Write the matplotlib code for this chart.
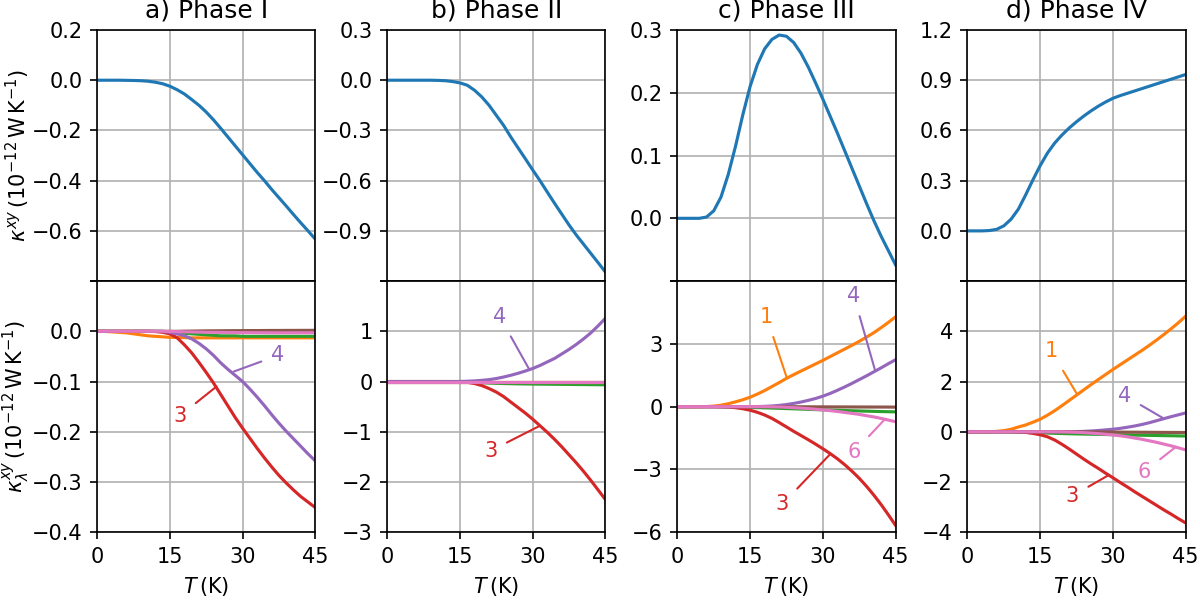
import matplotlib
matplotlib.use("Agg")
import matplotlib.pyplot as plt
from matplotlib.ticker import FuncFormatter
import numpy as np

# temperature grid (K)
T = [0, 1.5, 3, 4.5, 6, 7.5, 9, 10.5, 12, 13.5,
     15, 16.5, 18, 19.5, 21, 22.5, 24, 25.5, 27, 28.5,
     30, 31.5, 33, 34.5, 36, 37.5, 39, 40.5, 42, 43.5, 45]

phase_titles = ["a) Phase I", "b) Phase II", "c) Phase III", "d) Phase IV"]

Z10 = [0] * 10

# total thermal Hall conductivity, 1e-12 W/K
kxy_I = ([0, 0, 0, 0, -0.0005, -0.001, -0.002, -0.004, -0.008, -0.014]
         + [-0.024, -0.038, -0.055, -0.077, -0.1, -0.127, -0.158, -0.192, -0.227, -0.262]
         + [-0.297, -0.332, -0.367, -0.4, -0.435, -0.468, -0.501, -0.535, -0.568, -0.6, -0.633])
kxy_II = ([0, 0, 0, 0, 0, 0, 0, -0.001, -0.003, -0.008]
          + [-0.016, -0.03, -0.06, -0.1, -0.15, -0.21, -0.27, -0.34, -0.405, -0.47]
          + [-0.536, -0.6, -0.668, -0.735, -0.8, -0.865, -0.925, -0.98, -1.035, -1.09, -1.146])
kxy_III = ([0, 0, 0, 0, 0.002, 0.012, 0.034, 0.07, 0.115, 0.165]
           + [0.21, 0.245, 0.27, 0.285, 0.292, 0.29, 0.28, 0.263, 0.241, 0.216]
           + [0.19, 0.163, 0.136, 0.108, 0.08, 0.052, 0.024, -0.003, -0.028, -0.051, -0.074])
kxy_IV = ([0, 0, 0, 0.002, 0.009, 0.03, 0.07, 0.13, 0.215, 0.305]
          + [0.39, 0.465, 0.525, 0.573, 0.615, 0.652, 0.686, 0.717, 0.745, 0.77]
          + [0.792, 0.808, 0.822, 0.836, 0.85, 0.864, 0.878, 0.892, 0.906, 0.92, 0.934])

# band-resolved contributions (bands 1..6), 1e-12 W/K
bands_I = [
    [0, -0.0003, -0.001, -0.002, -0.003, -0.005, -0.007, -0.009, -0.01, -0.011]
    + [-0.012, -0.012, -0.0125, -0.013, -0.013, -0.013, -0.013, -0.013, -0.013, -0.013]
    + [-0.013] * 11,
    Z10 + [-0.001, -0.002, -0.004, -0.005, -0.006, -0.007, -0.008, -0.009, -0.009, -0.009]
    + [-0.01] * 11,
    [0, 0, 0, 0, 0, 0, 0, 0, -0.0005, -0.002]
    + [-0.005, -0.013, -0.027, -0.043, -0.062, -0.082, -0.103, -0.126, -0.149, -0.172]
    + [-0.193, -0.213, -0.233, -0.252, -0.27, -0.287, -0.302, -0.316, -0.329, -0.34, -0.351],
    [0, 0, 0, 0, 0, 0, 0, 0, 0, -0.0005]
    + [-0.002, -0.005, -0.009, -0.015, -0.024, -0.035, -0.048, -0.063, -0.076, -0.088]
    + [-0.1, -0.115, -0.131, -0.148, -0.166, -0.183, -0.199, -0.214, -0.229, -0.244, -0.258],
    Z10 + [0, 0, 0.0003, 0.0005, 0.0007, 0.0009, 0.001, 0.0011, 0.0012, 0.0013]
    + [0.0014, 0.0015, 0.0015, 0.0016, 0.0017, 0.0017, 0.0018, 0.0018, 0.0019, 0.0019, 0.002],
    Z10 + [-0.0003, -0.0006, -0.001, -0.0013, -0.0016, -0.0019, -0.002, -0.0022, -0.0024, -0.0025]
    + [-0.0026, -0.0027, -0.0028, -0.0029, -0.003, -0.003, -0.003, -0.003, -0.003, -0.003, -0.003],
]
bands_II = [
    [0] * 31,
    Z10 + [-0.003, -0.008, -0.015, -0.023, -0.03, -0.035, -0.04, -0.043, -0.046, -0.048]
    + [-0.05, -0.052, -0.053, -0.055, -0.056, -0.057, -0.059, -0.06, -0.062, -0.063, -0.065],
    Z10 + [-0.003, -0.015, -0.04, -0.08, -0.14, -0.21, -0.3, -0.41, -0.52, -0.63]
    + [-0.75, -0.88, -1.01, -1.15, -1.3, -1.46, -1.62, -1.79, -1.97, -2.16, -2.35],
    Z10 + [0.002, 0.006, 0.013, 0.024, 0.038, 0.06, 0.09, 0.125, 0.165, 0.21]
    + [0.26, 0.32, 0.39, 0.46, 0.55, 0.64, 0.74, 0.85, 0.97, 1.11, 1.26],
    [0] * 31,
    [0] * 31,
]
bands_III = [
    [0, 0, 0, 0, 0.005, 0.025, 0.07, 0.14, 0.23, 0.33]
    + [0.45, 0.6, 0.77, 0.96, 1.15, 1.35, 1.53, 1.7, 1.87, 2.04]
    + [2.21, 2.39, 2.57, 2.75, 2.93, 3.12, 3.32, 3.53, 3.77, 4.02, 4.29],
    [0, 0, 0, 0, 0, -0.003, -0.008, -0.015, -0.022, -0.03]
    + [-0.038, -0.047, -0.057, -0.068, -0.08, -0.092, -0.104, -0.116, -0.128, -0.14]
    + [-0.152, -0.163, -0.174, -0.185, -0.196, -0.206, -0.216, -0.225, -0.234, -0.242, -0.25],
    [0, 0, 0, 0, 0, 0, -0.003, -0.015, -0.05, -0.1]
    + [-0.17, -0.27, -0.4, -0.56, -0.76, -0.97, -1.18, -1.38, -1.58, -1.79]
    + [-2.01, -2.24, -2.49, -2.77, -3.08, -3.42, -3.8, -4.22, -4.67, -5.16, -5.67],
    Z10 + [0, 0.004, 0.014, 0.032, 0.06, 0.1, 0.155, 0.22, 0.3, 0.39]
    + [0.5, 0.63, 0.78, 0.94, 1.11, 1.29, 1.47, 1.66, 1.85, 2.05, 2.24],
    Z10 + [0, 0, 0, 0, 0, 0, -0.003, -0.005, -0.007, -0.009]
    + [-0.01, -0.012, -0.013, -0.014, -0.015, -0.016, -0.017, -0.018, -0.019, -0.02, -0.022],
    Z10 + [0, 0, 0, -0.005, -0.015, -0.03, -0.05, -0.07, -0.095, -0.125]
    + [-0.155, -0.19, -0.23, -0.275, -0.32, -0.37, -0.43, -0.49, -0.56, -0.64, -0.72],
]
bands_IV = [
    [0, 0, 0, 0.003, 0.015, 0.045, 0.1, 0.19, 0.27, 0.38]
    + [0.5, 0.66, 0.84, 1.04, 1.25, 1.46, 1.67, 1.88, 2.08, 2.28]
    + [2.48, 2.67, 2.86, 3.05, 3.24, 3.44, 3.65, 3.87, 4.1, 4.34, 4.6],
    [0, 0, 0, 0, 0, -0.003, -0.008, -0.015, -0.023, -0.032]
    + [-0.042, -0.052, -0.062, -0.071, -0.079, -0.086, -0.092, -0.098, -0.104, -0.11]
    + [-0.116, -0.122, -0.128, -0.134, -0.139, -0.144, -0.149, -0.154, -0.159, -0.164, -0.17],
    [0, 0, 0, 0, 0, 0, 0, -0.005, -0.025, -0.065]
    + [-0.12, -0.2, -0.33, -0.5, -0.69, -0.89, -1.09, -1.28, -1.46, -1.65]
    + [-1.83, -2.02, -2.2, -2.39, -2.57, -2.75, -2.93, -3.11, -3.28, -3.46, -3.63],
    Z10 + [0, 0, 0, 0, 0.002, 0.006, 0.015, 0.03, 0.05, 0.075]
    + [0.1, 0.135, 0.18, 0.23, 0.29, 0.36, 0.44, 0.52, 0.6, 0.675, 0.75],
    Z10 + [0, 0, 0, 0, 0, 0, -0.004, -0.006, -0.008, -0.01]
    + [-0.012, -0.014, -0.016, -0.018, -0.02, -0.022, -0.024, -0.026, -0.027, -0.028, -0.03],
    Z10 + [0, 0, 0, -0.003, -0.01, -0.02, -0.035, -0.055, -0.075, -0.1]
    + [-0.125, -0.16, -0.2, -0.25, -0.3, -0.36, -0.42, -0.49, -0.56, -0.64, -0.72],
]

totals = [kxy_I, kxy_II, kxy_III, kxy_IV]
bands = [bands_I, bands_II, bands_III, bands_IV]
band_colors = ["tab:orange", "tab:green", "tab:red", "tab:purple", "tab:brown", "tab:pink"]

# (ticks, hidden tick at the shared edge, decimals)
top_ticks = [(np.arange(-0.8, 0.21, 0.2), -0.8, 1),
             (np.arange(-1.2, 0.31, 0.3), -1.2, 1),
             (np.arange(-0.1, 0.31, 0.1), -0.1, 1),
             (np.arange(-0.3, 1.21, 0.3), -0.3, 1)]
bot_ticks = [(np.arange(-0.4, 0.11, 0.1), 0.1, 1),
             (np.arange(-3, 2.1, 1), 2, 0),
             (np.arange(-6, 6.1, 3), 6, 0),
             (np.arange(-4, 6.1, 2), 6, 0)]

# band label annotations: (column, band, label T, label value, point T, point value)
labels = [
    (0, 4, 37.3, -0.048, 28.2, -0.08),
    (0, 3, 17.1, -0.168, 24.6, -0.11),
    (1, 4, 23.2, 1.29, 29.3, 0.24),
    (1, 3, 21.3, -1.38, 31.5, -0.88),
    (2, 1, 18.4, 4.29, 22.6, 1.36),
    (2, 4, 36.4, 5.29, 40.8, 1.72),
    (2, 6, 36.4, -2.18, 42.9, -0.58),
    (2, 3, 21.6, -4.67, 31.4, -2.3),
    (3, 1, 17.3, 3.21, 22.6, 1.5),
    (3, 4, 32.4, 1.44, 40.3, 0.55),
    (3, 6, 36.5, -1.59, 43.0, -0.6),
    (3, 3, 21.6, -2.56, 29.1, -1.73),
]


def make_formatter(hidden, decimals):
    def fmt(v, pos):
        if abs(v - hidden) < 1e-6:
            return ""
        if abs(v) < 1e-9:
            v = 0.0
        return f"{v:.{decimals}f}".replace("-", "\u2212")
    return FuncFormatter(fmt)


fig, axes = plt.subplots(2, 4, figsize=(8, 4), dpi=150, sharex=True)
fig.subplots_adjust(left=0.081, right=0.988, top=0.95, bottom=0.113, hspace=0, wspace=0.33)

for col in range(4):
    ax_top = axes[0, col]
    ax_bot = axes[1, col]

    ax_top.plot(T, totals[col], color="tab:blue")
    ax_top.set_title(phase_titles[col])
    for i, band in enumerate(bands[col]):
        ax_bot.plot(T, band, color=band_colors[i])

    for ax, (ticks, hidden, dec) in ((ax_top, top_ticks[col]), (ax_bot, bot_ticks[col])):
        ax.set_yticks(ticks)
        ax.set_ylim(ticks[0], ticks[-1])
        ax.yaxis.set_major_formatter(make_formatter(hidden, dec))
        ax.grid(True)

    ax_top.tick_params(axis="x", bottom=False)
    ax_bot.set_xlim(0, 45)
    ax_bot.set_xticks([0, 15, 30, 45])
    ax_bot.set_xlabel(r"$T\,(\mathrm{K})$")

for col, band, tx, ty, px, py in labels:
    c = band_colors[band - 1]
    axes[1, col].annotate(str(band), xy=(px, py), xytext=(tx, ty), color=c,
                          ha="center", va="center",
                          arrowprops=dict(arrowstyle="-", color=c, shrinkA=3, shrinkB=0))

axes[0, 0].set_ylabel(r"$\kappa^{xy}\,(10^{-12}\,\mathrm{W\,K^{-1}})$")
axes[1, 0].set_ylabel(r"$\kappa_\lambda^{xy}\,(10^{-12}\,\mathrm{W\,K^{-1}})$")
axes[0, 0].yaxis.set_label_coords(-0.30, 0.5)
axes[1, 0].yaxis.set_label_coords(-0.30, 0.5)

fig.savefig("out.png", dpi=150)
